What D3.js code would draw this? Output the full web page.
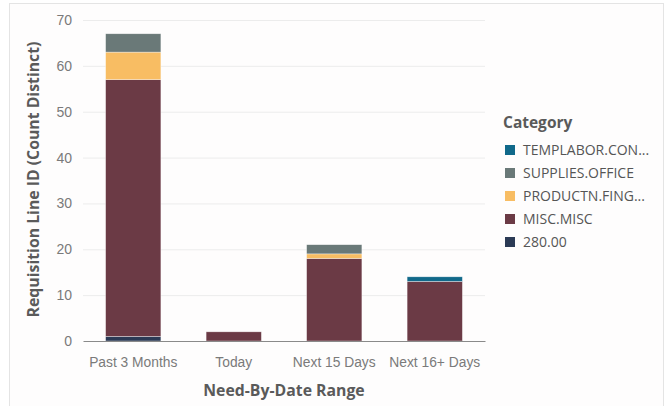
<!DOCTYPE html>
<html><head><meta charset="utf-8">
<script src="https://cdn.jsdelivr.net/npm/d3@7"></script>
<style>
html,body{margin:0;padding:0;background:#fff;}
svg{display:block;font-family:"Open Sans","Noto Sans",sans-serif;}
</style></head>
<body><svg id="c" width="666" height="406"></svg>
<script>
const categories = ["Past 3 Months","Today","Next 15 Days","Next 16+ Days"];
const seriesNames = ["280.00","MISC.MISC","PRODUCTN.FING...","SUPPLIES.OFFICE","TEMPLABOR.CON..."];
const v280 = [1,0,0,0];
const vMisc = [56,2,18,13];
const vProd = [6,0,1,0];
const vSupplies = [4,0,2,0];
const vTemplabor = [0,0,0,1];
const colors = ["#2b3a55","#6b3a45","#f8bd63","#6a7978","#11698a"];
const yTicks = [0,10,20,30,40,50,60,70];
const legendOrder = ["TEMPLABOR.CON...","SUPPLIES.OFFICE","PRODUCTN.FING...","MISC.MISC","280.00"];

const seriesVals = [v280,vMisc,vProd,vSupplies,vTemplabor];
const rows = categories.map((c,i)=>{const r={cat:c}; seriesNames.forEach((s,j)=>r[s]=seriesVals[j][i]); return r;});
const stack = d3.stack().keys(seriesNames)(rows);

const svg = d3.select("#c");
svg.append("rect").attr("x",9.5).attr("y",3.5).attr("width",654).attr("height",410)
  .attr("fill","#fefdfd").attr("stroke","#e4e4e4");

const m = {l:83,r:485,t:20,b:341};
const x = d3.scaleBand().domain(categories).range([m.l,m.r]).paddingInner(0.45).paddingOuter(0.225);
const y = d3.scaleLinear().domain([0,70]).range([m.b,m.t]);
const color = d3.scaleOrdinal().domain(seriesNames).range(colors);

// gridlines
svg.append("g").selectAll("line").data(yTicks.filter(t=>t>0)).join("line")
  .attr("x1",m.l).attr("x2",m.r).attr("y1",d=>y(d)+0.5).attr("y2",d=>y(d)+0.5)
  .attr("stroke","#ececec");

// y axis labels
const yAxis = svg.append("g").attr("transform",`translate(${m.l},0)`)
  .call(d3.axisLeft(y).tickValues(yTicks).tickSize(0).tickPadding(11));
yAxis.select(".domain").remove();
yAxis.selectAll("text").attr("fill","#7a7a7a").style("font-size","14px");

// bars
svg.append("g").selectAll("g").data(stack).join("g").attr("fill",d=>color(d.key))
  .selectAll("rect").data(d=>d.filter(p=>p[1]>p[0])).join("rect")
  .attr("x",d=>x(d.data.cat)).attr("width",x.bandwidth())
  .attr("y",d=>y(d[1])).attr("height",d=>y(d[0])-y(d[1]))
  .attr("stroke","#ffffff").attr("stroke-width",0.6).attr("stroke-opacity",0.6);

// x axis
const xAxis = svg.append("g").attr("transform",`translate(0,${m.b})`)
  .call(d3.axisBottom(x).tickSize(0).tickPadding(16));
xAxis.select(".domain").attr("stroke","#8a8a8a").attr("stroke-width",1.2);
xAxis.selectAll("text").attr("fill","#7a7a7a").style("font-size","13.8px");

// axis titles
svg.append("text").attr("x",(m.l+m.r)/2).attr("y",396).attr("text-anchor","middle")
  .attr("fill","#5a5a5a").style("font-size","15.8px").style("font-weight","bold").text("Need-By-Date Range");
svg.append("text").attr("transform",`translate(39,${(m.t+m.b)/2-1}) rotate(-90)`).attr("text-anchor","middle")
  .attr("fill","#5a5a5a").style("font-size","15.8px").style("font-weight","bold").text("Requisition Line ID (Count Distinct)");

// legend
const lg = svg.append("g").attr("transform","translate(503,0)");
lg.append("text").attr("x",0).attr("y",128).attr("fill","#5a5a5a").style("font-size","15.5px").style("font-weight","bold").text("Category");
const li = lg.selectAll("g.li").data(legendOrder).join("g").attr("class","li")
  .attr("transform",(d,i)=>`translate(0,${150+i*23})`);
li.append("rect").attr("x",2).attr("y",-5).attr("width",10).attr("height",10).attr("fill",d=>color(d));
li.append("text").attr("x",20).attr("y",5).attr("fill","#555").style("font-size","14px").text(d=>d);
</script></body></html>
